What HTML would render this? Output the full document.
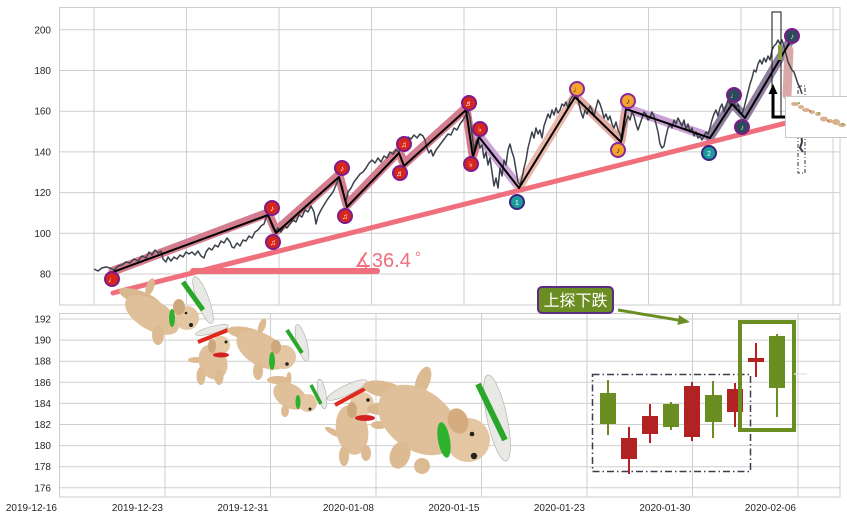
<!DOCTYPE html>
<html><head><meta charset="utf-8"><style>
html,body{margin:0;padding:0;background:#fff;}
svg{display:block;}
text{font-family:"Liberation Sans","DejaVu Sans",sans-serif;}
</style></head><body>
<svg width="847" height="520" viewBox="0 0 847 520" xmlns="http://www.w3.org/2000/svg">
<rect width="847" height="520" fill="#fff"/>
<!-- TOP AXES GRID -->
<g stroke="#cfcfcf" stroke-width="1">
<line x1="59" y1="29.8" x2="840" y2="29.8"/><line x1="59" y1="70.5" x2="840" y2="70.5"/>
<line x1="59" y1="111.2" x2="840" y2="111.2"/><line x1="59" y1="151.9" x2="840" y2="151.9"/>
<line x1="59" y1="192.6" x2="840" y2="192.6"/><line x1="59" y1="233.3" x2="840" y2="233.3"/>
<line x1="59" y1="274" x2="840" y2="274"/>
<line x1="94" y1="7" x2="94" y2="305"/><line x1="186.5" y1="7" x2="186.5" y2="305"/>
<line x1="279" y1="7" x2="279" y2="305"/><line x1="371.5" y1="7" x2="371.5" y2="305"/>
<line x1="464" y1="7" x2="464" y2="305"/><line x1="556.5" y1="7" x2="556.5" y2="305"/>
<line x1="648.5" y1="7" x2="648.5" y2="305"/><line x1="741" y1="7" x2="741" y2="305"/>
<line x1="833" y1="7" x2="833" y2="305"/>
</g>
<rect x="59.5" y="7.5" width="780.5" height="297.5" fill="none" stroke="#cccccc"/>
<!-- BOTTOM AXES GRID -->
<g stroke="#cfcfcf" stroke-width="1">
<line x1="59" y1="319" x2="840" y2="319"/><line x1="59" y1="340.1" x2="840" y2="340.1"/>
<line x1="59" y1="361.2" x2="840" y2="361.2"/><line x1="59" y1="382.3" x2="840" y2="382.3"/>
<line x1="59" y1="403.4" x2="840" y2="403.4"/><line x1="59" y1="424.5" x2="840" y2="424.5"/>
<line x1="59" y1="445.6" x2="840" y2="445.6"/><line x1="59" y1="466.7" x2="840" y2="466.7"/>
<line x1="59" y1="487.8" x2="840" y2="487.8"/>
<line x1="165" y1="313" x2="165" y2="497"/><line x1="270.5" y1="313" x2="270.5" y2="497"/>
<line x1="376" y1="313" x2="376" y2="497"/><line x1="481.5" y1="313" x2="481.5" y2="497"/>
<line x1="587" y1="313" x2="587" y2="497"/><line x1="692.5" y1="313" x2="692.5" y2="497"/>
<line x1="798" y1="313" x2="798" y2="497"/>
</g>
<rect x="59.5" y="313.5" width="780.5" height="183.5" fill="none" stroke="#cccccc"/>
<!-- TICK LABELS -->
<g font-size="10" fill="#262626" text-anchor="end">
<text x="51" y="33.3">200</text><text x="51" y="74">180</text><text x="51" y="114.7">160</text>
<text x="51" y="155.4">140</text><text x="51" y="196.1">120</text><text x="51" y="236.8">100</text>
<text x="51" y="277.5">80</text>
<text x="51" y="322.5">192</text><text x="51" y="343.6">190</text><text x="51" y="364.7">188</text>
<text x="51" y="385.8">186</text><text x="51" y="406.9">184</text><text x="51" y="428">182</text>
<text x="51" y="449.1">180</text><text x="51" y="470.2">178</text><text x="51" y="491.3">176</text>
<text x="57" y="511">2019-12-16</text><text x="163" y="511">2019-12-23</text>
<text x="268.5" y="511">2019-12-31</text><text x="374" y="511">2020-01-08</text>
<text x="479.5" y="511">2020-01-15</text><text x="585" y="511">2020-01-23</text>
<text x="690.5" y="511">2020-01-30</text><text x="796" y="511">2020-02-06</text>
</g>
<!-- BANDS -->
<g fill="none" stroke-width="9" stroke-linecap="round" stroke-linejoin="round">
<polyline stroke="#d37d8e" points="113,271 268,213 276,231 339,175 347,205 399,151 404,164 466,108 473,155 479,135"/>
<polyline stroke="#cba3d6" points="479,136 519,187"/>
<polyline stroke="#ebb9ab" points="519,187 575,96"/>
<polyline stroke="#e2aaa2" points="575,96 621,141 626,108"/>
<polyline stroke="#caa2d6" points="626,108 710,137"/>
<polyline stroke="#8f7f9e" points="710,137 732,103 745,117 790,41"/>
<polyline stroke="#dba8a8" points="789,50 787,95"/>
</g>
<!-- TREND LINE + ANGLE -->
<line x1="113" y1="293" x2="790" y2="122" stroke="#ef6f7d" stroke-width="5" stroke-linecap="round"/>
<line x1="193" y1="271" x2="377" y2="271" stroke="#ef6f7d" stroke-width="6" stroke-linecap="round"/>
<text x="354" y="267" font-size="20" fill="#ef6f7d">∡36.4<tspan font-size="15" dx="4" dy="-5">°</tspan></text>
<!-- PRICE LINE -->
<polyline fill="none" stroke="#3b414c" stroke-width="1.5" stroke-linejoin="round" points="94,269 98,271 102,268 106,267 110,268 114,270 118,266 122,265 126,262 130,263 134,259 138,261 142,256 146,258 149,252 152,255 155,250 158,253 161,251 163,259 166,262 168,257 171,261 174,257 177,259 180,255 183,257 186,252 189,254 192,252 195,255 198,251 201,256 204,258 206,252 209,248 212,250 215,245 218,247 221,241 224,243 227,238 230,242 232,247 234,248 237,243 240,246 243,240 246,241 249,236 252,238 255,232 258,230 261,226 264,224 266,218 268,215 270,220 272,226 275,232 278,228 281,232 284,226 287,228 290,224 293,220 296,222 299,215 302,217 305,210 308,212 311,206 314,212 316,224 318,216 321,210 324,205 327,200 330,196 333,192 336,185 339,178 342,186 344,196 346,201 348,192 351,188 354,182 357,178 360,174 363,172 366,168 369,163 372,160 375,163 378,158 381,162 384,156 387,158 390,152 393,154 396,150 399,152 402,146 405,142 408,137 411,139 414,135 417,138 420,134 423,136 425,140 427,148 429,153 431,150 433,156 436,150 439,146 442,142 445,138 448,134 451,135 454,128 457,130 460,124 463,120 466,115 468,110 470,118 472,134 474,150 476,142 478,138 480,148 482,145 484,158 486,152 488,165 490,158 492,172 494,186 496,178 498,188 500,168 502,176 504,160 506,165 508,150 510,144 512,152 514,158 516,170 518,182 520,185 522,178 524,168 526,160 528,148 530,140 532,132 534,138 536,128 538,134 540,130 542,138 544,126 546,120 548,114 550,118 552,110 554,115 556,108 558,113 560,110 562,104 564,106 566,102 568,108 570,100 572,97 575,94 577,93 579,104 581,112 583,118 585,110 587,114 590,106 592,110 594,116 596,108 598,100 600,104 602,110 604,118 606,114 608,120 610,116 612,124 614,128 616,122 618,130 620,134 622,140 624,130 626,122 628,116 630,120 632,112 634,116 636,124 638,130 640,124 642,118 644,112 646,114 648,120 650,118 652,112 654,116 656,124 658,132 660,144 662,148 664,146 666,136 668,128 670,124 672,128 674,120 676,124 678,118 680,122 682,126 684,120 686,130 688,124 690,132 692,128 694,136 696,132 698,138 700,136 702,140 704,136 706,132 708,134 710,128 712,120 714,114 716,110 718,116 720,108 722,104 724,112 726,106 728,100 730,104 732,98 734,102 736,108 738,104 740,112 742,114 744,108 746,100 748,92 750,84 752,78 754,70 756,72 758,64 760,60 762,64 764,58 766,62 768,56 770,60 772,50 774,46 776,44 778,40 780,44 782,40 784,46 786,54 788,62 790,66 792,70 794,72 796,78 798,84 800,88 802,94"/>
<path d="M801 132 L802 142 L800 148 L803 152" fill="none" stroke="#3b414c" stroke-width="2"/>
<!-- ZIGZAG -->
<polyline fill="none" stroke="#000" stroke-width="2" stroke-linejoin="round" points="113,272 268,215 276,233 339,177 347,207 399,153 404,166 466,110 473,157 479,137 519,188 575,97 621,142 626,109 710,138 732,104 745,118 790,42"/>
<!-- MARKERS -->
<g stroke-width="2" font-size="8" text-anchor="middle">
<g fill="#d7261a" stroke="#7d1a8c">
<circle cx="112" cy="279" r="7"/><circle cx="272" cy="208" r="7"/><circle cx="273" cy="242" r="7"/>
<circle cx="342" cy="168" r="7"/><circle cx="345" cy="216" r="7"/><circle cx="404" cy="144" r="7"/>
<circle cx="400" cy="173" r="7"/><circle cx="469" cy="103" r="7"/><circle cx="480" cy="129" r="7"/>
<circle cx="471" cy="164" r="7"/>
</g>
<g fill="#1c9a9c" stroke="#3a237f"><circle cx="517" cy="202" r="7"/><circle cx="709" cy="153" r="7"/></g>
<g fill="#f4a42c" stroke="#8a2a9a"><circle cx="577" cy="89" r="7"/><circle cx="618" cy="150" r="7"/><circle cx="628" cy="101" r="7"/></g>
<g fill="#2d4a5c" stroke="#7d1a8c"><circle cx="734" cy="95" r="7"/><circle cx="742" cy="127" r="7"/><circle cx="792" cy="36" r="7"/></g>
<g fill="#fff" stroke="none" font-family="'DejaVu Sans',sans-serif">
<text x="112" y="282">♩</text><text x="272" y="211">♪</text><text x="273" y="245">♫</text>
<text x="342" y="171">♪</text><text x="345" y="219">♫</text><text x="404" y="147">♫</text>
<text x="400" y="176">♬</text><text x="469" y="106">♬</text><text x="480" y="132">♭</text>
<text x="471" y="167">♭</text>
<text x="517" y="205" font-family="'Liberation Sans',sans-serif" font-size="7">1</text>
<text x="709" y="156" font-family="'Liberation Sans',sans-serif" font-size="7">2</text>
</g>
<g fill="#222" stroke="none" font-family="'DejaVu Sans',sans-serif">
<text x="577" y="92">♩</text><text x="618" y="153">♪</text><text x="628" y="104">♪</text>
</g>
<g fill="#ddd" stroke="none" font-family="'DejaVu Sans',sans-serif">
<text x="734" y="98">♩</text><text x="742" y="130">♪</text><text x="792" y="39">♪</text>
</g>
</g>
<!-- RIGHT SIDE TOP OBJECTS -->
<rect x="772" y="12" width="9" height="105" fill="none" stroke="#111" stroke-width="1"/>
<rect x="778" y="45" width="4" height="15" fill="#8aa040"/>
<path d="M785 117 L773 117 L773 93" fill="none" stroke="#000" stroke-width="3"/>
<polygon points="773,84 768.5,94 777.5,94" fill="#000"/>
<rect x="798" y="86" width="7" height="87" fill="none" stroke="#333" stroke-width="1" stroke-dasharray="4,2,1,2"/>
<rect x="785.5" y="96.5" width="70" height="41" fill="#fff" stroke="#c8c8c8"/>
<g fill="#d9b08c">
<ellipse cx="795" cy="104" rx="4" ry="2"/><ellipse cx="801" cy="107" rx="3" ry="2"/>
<ellipse cx="806" cy="110" rx="4" ry="2"/><ellipse cx="812" cy="112" rx="3" ry="2"/>
<ellipse cx="818" cy="114" rx="3" ry="2"/><ellipse cx="824" cy="119" rx="4" ry="2.5"/>
<ellipse cx="830" cy="121" rx="3" ry="2"/><ellipse cx="836" cy="122" rx="4" ry="3"/>
<ellipse cx="842" cy="125" rx="4" ry="2"/>
</g>
<g fill="#5fae3a"><circle cx="799" cy="103" r="1"/><circle cx="819" cy="113" r="1"/><circle cx="843" cy="124" r="1"/></g>
<g fill="#c43a2a"><circle cx="810" cy="111" r="0.8"/><circle cx="828" cy="121" r="0.8"/></g>
<!-- CANDLES -->
<g>
<rect x="607" y="380" width="2" height="55" fill="#6b8e23"/><rect x="600" y="393" width="16" height="31" fill="#6b8e23"/>
<rect x="628" y="427" width="2" height="47" fill="#b22222"/><rect x="621" y="438" width="16" height="21" fill="#b22222"/>
<rect x="649" y="404" width="2" height="39" fill="#b22222"/><rect x="642" y="416" width="16" height="18" fill="#b22222"/>
<rect x="670" y="402" width="2" height="28" fill="#6b8e23"/><rect x="663" y="404" width="16" height="23" fill="#6b8e23"/>
<rect x="691" y="382" width="2" height="59" fill="#b22222"/><rect x="684" y="386" width="16" height="51" fill="#b22222"/>
<rect x="712" y="381" width="2" height="57" fill="#6b8e23"/><rect x="705" y="395" width="17" height="27" fill="#6b8e23"/>
<rect x="734" y="383" width="2" height="44" fill="#b22222"/><rect x="727" y="389" width="16" height="23" fill="#b22222"/>
<rect x="755" y="343" width="2" height="34" fill="#b22222"/><rect x="748" y="358" width="16" height="4" fill="#b22222"/>
<rect x="776" y="334" width="2" height="83" fill="#6b8e23"/><rect x="769" y="336" width="16" height="52" fill="#6b8e23"/>
</g>
<rect x="592.5" y="374.5" width="158" height="97" fill="none" stroke="#3c3c4a" stroke-width="1.5" stroke-dasharray="7,3,1.5,3"/>
<rect x="740" y="322" width="54" height="108" fill="none" stroke="#6b8e23" stroke-width="4"/>
<line x1="794" y1="374" x2="807" y2="374" stroke="#e6e6e6" stroke-width="1.5"/>
<!-- ANNOTATION -->
<line x1="618" y1="310" x2="679" y2="320.2" stroke="#6b8e23" stroke-width="3"/>
<polygon points="690,322 677.4,324.9 679,315.1" fill="#6b8e23"/>
<rect x="538" y="287" width="75" height="26" rx="4" fill="#6b8e23" stroke="#5b2c83" stroke-width="2"/>
<text x="575.5" y="306" font-size="16" fill="#fff" text-anchor="middle" font-family="'Liberation Sans','Noto Sans CJK SC',sans-serif">上探下跌</text>
<!-- DOGS -->
<g>
<!-- dog 1 -->
<ellipse cx="140" cy="298" rx="22" ry="7" transform="rotate(20 140 298)" fill="#d9b890"/>
<ellipse cx="152" cy="315" rx="30" ry="15" transform="rotate(30 152 315)" fill="#e0c09a"/>
<ellipse cx="150" cy="287" rx="4" ry="9" transform="rotate(20 150 287)" fill="#d9b890"/>
<ellipse cx="158" cy="335" rx="6" ry="10" fill="#dcbb93"/>
<circle cx="187" cy="318" r="12" fill="#e4c7a2"/>
<ellipse cx="179" cy="307" rx="6" ry="8" fill="#cfa77c"/>
<ellipse cx="172" cy="318" rx="3" ry="9" fill="#2db22d"/>
<circle cx="186" cy="313" r="1.3" fill="#222"/><circle cx="191" cy="325" r="2" fill="#222"/>
<ellipse cx="203" cy="300" rx="6" ry="25" transform="rotate(-20 203 300)" fill="#e8e8e4" stroke="#aaa" stroke-width="0.6"/>
<path d="M183 282 L203 310" stroke="#2aa62a" stroke-width="5"/>
<!-- dog 2 -->
<ellipse cx="196" cy="360" rx="8" ry="3" fill="#dcbb93"/>
<ellipse cx="213" cy="362" rx="14" ry="18" transform="rotate(-20 213 362)" fill="#e0c09a"/>
<ellipse cx="201" cy="376" rx="4.5" ry="9" fill="#dcbb93"/>
<ellipse cx="219" cy="377" rx="4.5" ry="8" fill="#dcbb93"/>
<circle cx="221" cy="345" r="9" fill="#e6caa6"/>
<ellipse cx="212" cy="346" rx="4" ry="7" fill="#cfa77c"/>
<ellipse cx="221" cy="355" rx="8" ry="2.5" fill="#d42020"/>
<circle cx="226" cy="342" r="1.5" fill="#222"/>
<ellipse cx="212" cy="330" rx="17" ry="3.5" transform="rotate(-15 212 330)" fill="#e8e8e4" stroke="#aaa" stroke-width="0.6"/>
<path d="M198 342 L228 330" stroke="#e0281c" stroke-width="4"/>
<!-- dog 3 -->
<ellipse cx="245" cy="333" rx="18" ry="6" transform="rotate(10 245 333)" fill="#dcbb93"/>
<ellipse cx="262" cy="350" rx="28" ry="16" transform="rotate(30 262 350)" fill="#e0c09a"/>
<ellipse cx="262" cy="326" rx="3.5" ry="8" transform="rotate(20 262 326)" fill="#dcbb93"/>
<ellipse cx="258" cy="371" rx="5" ry="9" fill="#dcbb93"/>
<circle cx="284" cy="357" r="12" fill="#e4c7a2"/>
<ellipse cx="276" cy="347" rx="5" ry="7" fill="#cfa77c"/>
<ellipse cx="272" cy="361" rx="3" ry="9" fill="#2db22d"/>
<circle cx="287" cy="364" r="1.8" fill="#222"/>
<ellipse cx="302" cy="343" rx="5" ry="19" transform="rotate(-15 302 343)" fill="#e8e8e4" stroke="#aaa" stroke-width="0.6"/>
<path d="M287 330 L302 353" stroke="#2aa62a" stroke-width="4"/>
<!-- dog 4 -->
<ellipse cx="278" cy="380" rx="11" ry="4" fill="#dcbb93"/>
<ellipse cx="290" cy="396" rx="18" ry="12" transform="rotate(30 290 396)" fill="#e0c09a"/>
<ellipse cx="289" cy="378" rx="2.5" ry="6" fill="#dcbb93"/>
<ellipse cx="285" cy="411" rx="4" ry="6" fill="#dcbb93"/>
<circle cx="308" cy="403" r="9" fill="#e4c7a2"/>
<ellipse cx="298" cy="402" rx="2.5" ry="7" fill="#2db22d"/>
<circle cx="310" cy="409" r="1.5" fill="#222"/>
<ellipse cx="322" cy="394" rx="4" ry="15" transform="rotate(-10 322 394)" fill="#e8e8e4" stroke="#aaa" stroke-width="0.6"/>
<path d="M311 385 L321 404" stroke="#2aa62a" stroke-width="3.5"/>
<!-- dog 5 -->
<ellipse cx="333" cy="432" rx="9" ry="3" transform="rotate(30 333 432)" fill="#dcbb93"/>
<ellipse cx="352" cy="430" rx="16" ry="25" transform="rotate(-10 352 430)" fill="#e0c09a"/>
<ellipse cx="344" cy="456" rx="5" ry="10" fill="#dcbb93"/>
<ellipse cx="366" cy="453" rx="5" ry="8" fill="#dcbb93"/>
<ellipse cx="379" cy="425" rx="8" ry="4" fill="#dcbb93"/>
<circle cx="362" cy="404" r="12" fill="#e6caa6"/>
<ellipse cx="352" cy="410" rx="5" ry="8" fill="#cfa77c"/>
<ellipse cx="365" cy="418" rx="10" ry="3" fill="#d42020"/>
<circle cx="368" cy="400" r="1.8" fill="#222"/>
<ellipse cx="347" cy="390" rx="22" ry="5" transform="rotate(-25 347 390)" fill="#e8e8e4" stroke="#aaa" stroke-width="0.6"/>
<path d="M335 405 L370 386" stroke="#e0281c" stroke-width="4"/>
<!-- dog 6 -->
<ellipse cx="383" cy="389" rx="20" ry="8" transform="rotate(10 383 389)" fill="#dcbb93"/>
<ellipse cx="381" cy="409" rx="14" ry="6" fill="#d9b890"/>
<ellipse cx="423" cy="381" rx="7" ry="15" transform="rotate(20 423 381)" fill="#dcbb93"/>
<ellipse cx="418" cy="420" rx="44" ry="30" transform="rotate(35 418 420)" fill="#e0c09a"/>
<ellipse cx="400" cy="455" rx="10" ry="14" transform="rotate(20 400 455)" fill="#dcbb93"/>
<ellipse cx="422" cy="466" rx="8" ry="8" fill="#dcbb93"/>
<circle cx="468" cy="440" r="22" fill="#e4c7a2"/>
<ellipse cx="458" cy="421" rx="10" ry="13" transform="rotate(-20 458 421)" fill="#d4ac80"/>
<ellipse cx="444" cy="440" rx="6" ry="18" transform="rotate(-10 444 440)" fill="#2db22d"/>
<circle cx="472" cy="434" r="2.3" fill="#222"/><circle cx="474" cy="456" r="3.2" fill="#222"/>
<ellipse cx="497" cy="418" rx="10" ry="44" transform="rotate(-12 497 418)" fill="#e8e8e4" stroke="#aaa" stroke-width="0.6"/>
<path d="M478 384 L505 440" stroke="#2aa62a" stroke-width="6"/>
</g>
</svg>
</body></html>
